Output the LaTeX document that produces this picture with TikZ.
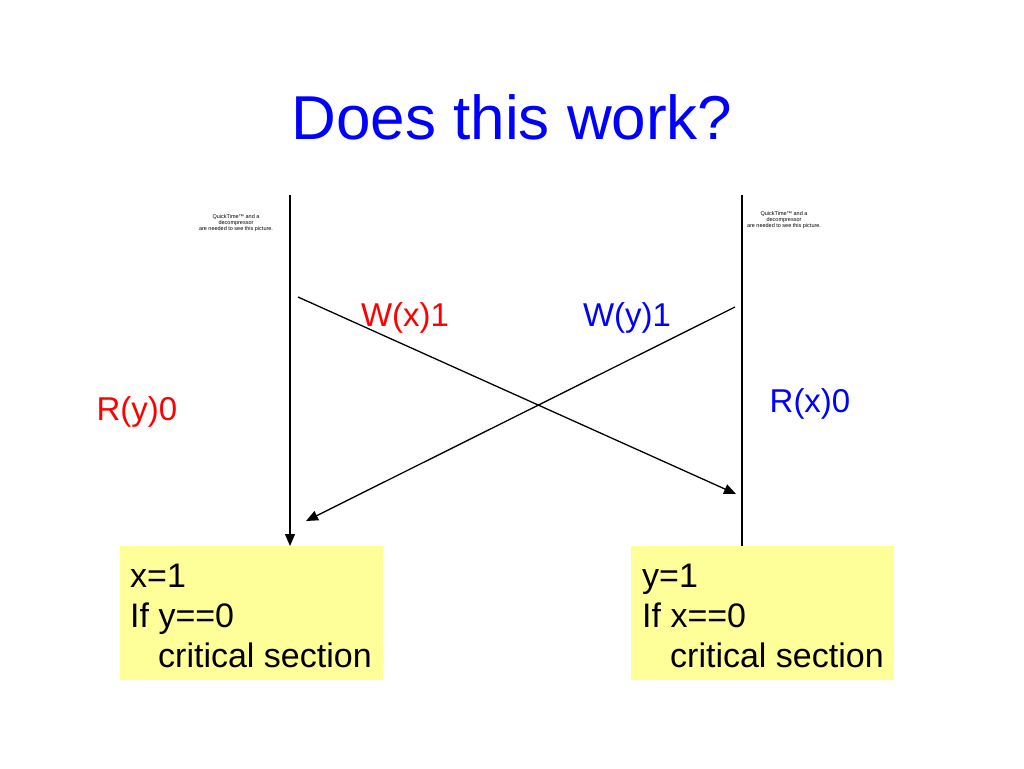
\documentclass[tikz,border=0pt]{standalone}
\usepackage{fontspec}
\setmainfont{Liberation Sans}
\usetikzlibrary{arrows.meta}
\definecolor{boxyellow}{RGB}{255,255,153}
\begin{document}
\begin{tikzpicture}[x=1pt,y=-1pt,
  line/.style={line width=1.3pt},
  arr/.style={line, -{Triangle[length=12pt,width=10pt]}},
  lbl/.style={font=\fontsize{33}{40}\selectfont, inner sep=0pt},
  boxtxt/.style={font=\fontsize{34}{40}\selectfont, inner sep=0pt, anchor=base west},
  ybox/.style={fill=boxyellow, draw=none, minimum width=263pt, minimum height=134pt, inner sep=0pt},
  qt/.style={font=\fontsize{5.5}{6}\selectfont, align=center, inner sep=0pt}]
\useasboundingbox (0,0) rectangle (1024,768);
\fill[white] (0,0) rectangle (1024,768);
% title
\node[font=\fontsize{62}{70}\selectfont, text=blue, inner sep=0pt] (title) at (512,117) {Does this work?};
% boxes
\node[ybox] (lbox) at (251.5,613) {};
\node[ybox] (rbox) at (762.5,613) {};
\node[boxtxt] (l1) at (130,587) {x=1};
\node[boxtxt] (l2) at (130,627) {If y==0};
\node[boxtxt] (l3) at (158,667) {critical section};
\node[boxtxt] (r1) at (642,587) {y=1};
\node[boxtxt] (r2) at (642,627) {If x==0};
\node[boxtxt] (r3) at (670,667) {critical section};
% quicktime placeholders
\node[qt] (qtl) at (236,223) {QuickTime™ and a\\decompressor\\are needed to see this picture.};
\node[qt] (qtr) at (784,220) {QuickTime™ and a\\decompressor\\are needed to see this picture.};
% timelines
\coordinate (ltop) at (290,195);
\coordinate (lbot) at (290,546);
\coordinate (rtop) at (742,195);
\coordinate (rbot) at (742,546);
\draw[arr] (ltop) -- (lbot);
\draw[line] (rtop) -- (rbot);
% messages
\coordinate (m1s) at (298,297);
\coordinate (m1e) at (736,494);
\coordinate (m2s) at (735,307);
\coordinate (m2e) at (306,521);
\draw[arr] (m1s) -- (m1e);
\draw[arr] (m2s) -- (m2e);
% labels
\node[lbl, text=red] (wx) at (405,318) {W(x)1};
\node[lbl, text=blue] (wy) at (627,318) {W(y)1};
\node[lbl, text=red] (ry) at (137,412) {R(y)0};
\node[lbl, text=blue] (rx) at (810,404) {R(x)0};
\end{tikzpicture}
\end{document}
